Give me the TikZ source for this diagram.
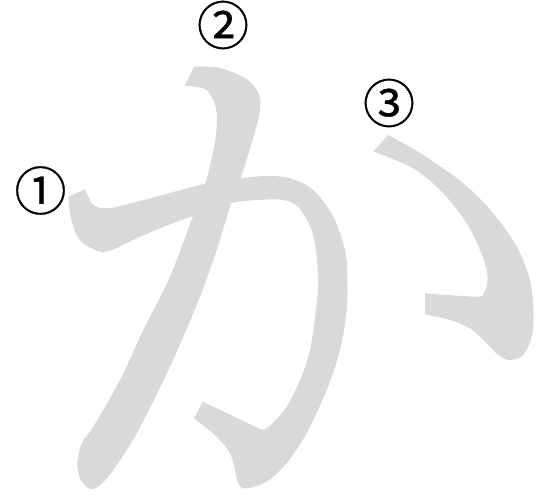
\documentclass[tikz,border=0pt]{standalone}
\usepackage{fontspec}
\usepackage{xcolor}
\usetikzlibrary{positioning}
\newfontfamily\numfont{Noto Sans CJK JP}[FakeBold=0.6]
\definecolor{kanagray}{RGB}{217,217,217}
\tikzset{
  strokefill/.style={fill=kanagray},
  numlabel/.style={font=\numfont\fontsize{52}{52}\selectfont, inner sep=0pt}
}

\begin{document}
\begin{tikzpicture}[x=1pt,y=-1pt]
					\useasboundingbox (0,0) rectangle (541,496);
					% draw stroke 2 (the long slant)
					\fill[strokefill] (185,85.5) -- plot[smooth, tension=0.55] coordinates {(194,66.7) (220,68) (246.7,79) (258.3,93) (260.3,108) (255,131.7) (241.7,175) (230,206.7) (216.7,250) (200,296.7) (170,366.7) (136.7,433.3) (112,472) (97,487.3) (88.3,488.3) (80,478.3) (77.3,463.3) (81.7,443.3) (93.3,426.7) (120,380) (143.3,330) (170,276.7) (193.3,215) (205,185) (215,141.7) (216.7,113.3) (211.7,96.7) (203.3,88.3) (185,85.5)} -- cycle;
					% draw stroke 1 (bar, bend and hook)
					\fill[strokefill] (68.3,196.7) -- plot[smooth, tension=0.55] coordinates {(85,189.3) (88.3,196.7) (93.3,205) (103.3,208.3) (116.7,206.7) (150,198.3) (206.7,183.3) (240,178.3) (266.7,176) (290,178.3) (313.3,190) (333.3,216.7) (345,250) (347.3,276.7) (346.7,310) (340,350) (326.7,390) (306.7,433) (286.7,463) (266.7,481.7) (247,488.3) (239,485) (235,470) (230,453.3) (216.7,436.7) (194,418.3)}
						-- plot[smooth, tension=0.55] coordinates {(202.7,401.7) (232,415.5) (260,428.8) (266,428) (272,424) (286.7,406.7) (300,380) (310,350) (316,310) (318,283) (316,250) (310,226) (298,207) (283.3,200) (256.7,200) (230,203.3) (193.3,215.7) (160,228.3) (136.7,238.3) (111.7,250) (100,251.7) (83.3,243.3) (75,231.7) (70,213.3) (68.3,196.7)} -- cycle;
					% draw stroke 3 (right arc)
					\fill[strokefill] (373.3,151.7) -- plot[smooth, tension=0.55] coordinates {(388.3,135) (423.3,155) (463.3,183.3) (493.3,213.3) (516.7,246.7) (530,280) (533.5,313.3) (531.7,336.7) (523.3,355) (510,360) (498.3,355) (486.7,343.3) (470,328.3) (450,320) (425,314.3)}
						-- plot[smooth, tension=0.55] coordinates {(425,293.3) (476.7,296.7) (484,292.7) (487.3,283.3) (486.7,270) (480,250) (466.7,223.3) (443.3,193.3) (413.3,168.3) (373.3,151.7)} -- cycle;
					% add stroke numbers
					\node[numlabel] (one) at (40.5,190.5) {①};
					\node[numlabel] (two) at (223,25) {②};
					\node[numlabel] (three) at (389,103) {③};
				\end{tikzpicture}
\end{document}
